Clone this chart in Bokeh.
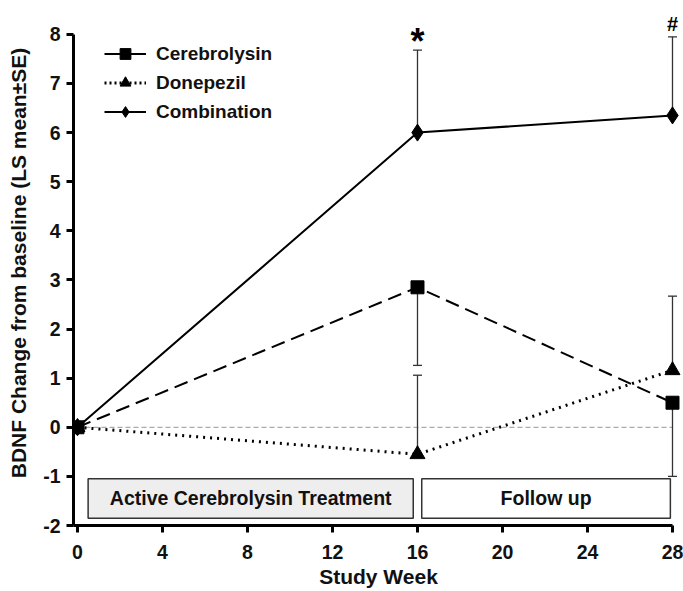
from bokeh.plotting import figure
from bokeh.models import (Range1d, FixedTicker, Legend, LegendItem, ColumnDataSource,
                          PrintfTickFormatter)
from bokeh.core.properties import value
from bokeh.embed import file_html
from bokeh.resources import INLINE

# ---- data ----
weeks = [0, 16, 28]
cerebrolysin = [0.0, 2.85, 0.50]
cerebrolysin_err_end = [None, 1.26, -1.00]   # one-sided (down)
donepezil = [0.0, -0.55, 1.16]
donepezil_err_end = [None, 1.06, 2.67]       # one-sided (up)
combination = [0.0, 6.00, 6.35]
combination_err_end = [None, 7.68, 7.95]     # one-sided (up)

x_ticks = [0, 4, 8, 12, 16, 20, 24, 28]
y_ticks = [-2, -1, 0, 1, 2, 3, 4, 5, 6, 7, 8]

phase_labels = ["Active Cerebrolysin Treatment", "Follow up"]
phase_left = [0.5, 16.2]
phase_right = [15.8, 27.9]
phase_bottom = [-1.85, -1.85]
phase_top = [-1.05, -1.05]
phase_fill = ["#eeeeee", "#ffffff"]

zero_x = [0, 28]
zero_y = [0, 0]

sig_marks = ["*", "#"]
sig_x = [16, 28]
sig_y = [7.86, 8.21]
sig_size = ["36px", "20px"]

FONT = "Liberation Sans"
NAN = [float("nan")]

X0, X1 = -0.188, 28.518

p = figure(width=683, height=591, output_backend="svg", toolbar_location=None,
           x_range=Range1d(X0, X1), y_range=Range1d(-2.0, 8.69),
           min_border_left=73, min_border_right=0, min_border_top=0, min_border_bottom=66)
p.grid.visible = False
p.outline_line_color = None
p.background_fill_color = "white"

# phase boxes
src_box = ColumnDataSource(dict(l=phase_left, r=phase_right, b=phase_bottom, t=phase_top,
                                fill=phase_fill, label=phase_labels,
                                cx=[(a + b) / 2 for a, b in zip(phase_left, phase_right)],
                                cy=[(a + b) / 2 for a, b in zip(phase_bottom, phase_top)]))
p.quad(left="l", right="r", bottom="b", top="t", fill_color="fill", line_color="#333333",
       line_width=1.5, source=src_box)
p.text(x="cx", y="cy", text="label", source=src_box, text_align="center", text_baseline="middle",
       text_font=value(FONT), text_font_style="bold", text_font_size="19.5px", text_color="#111111")

# zero line
p.line(zero_x, zero_y, line_color="#aaaaaa", line_dash="5 3", line_width=1.2)

# error bars
def err(xs, ys, ends):
    x0 = [x for x, e in zip(xs, ends) if e is not None]
    y0 = [y for y, e in zip(ys, ends) if e is not None]
    y1 = [e for e in ends if e is not None]
    p.segment(x0=x0, y0=y0, x1=x0, y1=y1, line_color="#333333", line_width=1.3)
    p.scatter(x0, y1, marker="dash", size=9, line_color="#333333", line_width=1.3)

err(weeks, combination, combination_err_end)
err(weeks, donepezil, donepezil_err_end)
err(weeks, cerebrolysin, cerebrolysin_err_end)

# series
p.line(weeks, combination, line_color="black", line_width=2)
p.scatter(weeks, combination, marker="diamond", size=17, fill_color="black", line_color="black")
p.line(weeks, donepezil, line_color="black", line_width=3, line_dash="2 5")
p.scatter(weeks, donepezil, marker="triangle", size=15, fill_color="black", line_color="black")
p.line(weeks, cerebrolysin, line_color="black", line_width=2, line_dash="14 7")
p.scatter(weeks, cerebrolysin, marker="square", size=13, fill_color="black", line_color="black")

# significance marks
src_sig = ColumnDataSource(dict(x=sig_x, y=sig_y, t=sig_marks, s=sig_size))
p.text(x="x", y="y", text="t", text_font_size="s", source=src_sig, text_align="center",
       text_baseline="middle", text_font=value(FONT), text_font_style="bold", text_color="black")

# legend (proxy renderers, not visible in the plot area)
lc = p.line(NAN, NAN, line_color="black", line_width=2)
mc = p.scatter(NAN, NAN, marker="square", size=11, fill_color="black", line_color="black")
ld = p.line(NAN, NAN, line_color="black", line_width=3, line_dash="2 3")
md = p.scatter(NAN, NAN, marker="triangle", size=12, fill_color="black", line_color="black")
lb = p.line(NAN, NAN, line_color="black", line_width=2)
mb = p.scatter(NAN, NAN, marker="diamond", size=13, fill_color="black", line_color="black")
legend = Legend(items=[LegendItem(label="Cerebrolysin", renderers=[lc, mc]),
                       LegendItem(label="Donepezil", renderers=[ld, md]),
                       LegendItem(label="Combination", renderers=[lb, mb])],
                location=(31, 400), glyph_width=42, glyph_height=27, label_height=27,
                spacing=2, padding=0, margin=0, label_standoff=10,
                border_line_color=None, background_fill_alpha=0,
                label_text_font=FONT, label_text_font_style="bold", label_text_font_size="19px",
                label_text_color="#111111")
p.add_layout(legend)

# axes
for ax in (p.xaxis[0], p.yaxis[0]):
    ax.axis_line_width = 3
    ax.axis_line_color = "black"
    ax.major_tick_line_width = 3
    ax.major_tick_line_color = "black"
    ax.major_tick_out = 7
    ax.major_tick_in = 0
    ax.minor_tick_line_color = None
    ax.major_label_text_font = FONT
    ax.major_label_text_font_style = "bold"
    ax.major_label_text_font_size = "19.5px"
    ax.major_label_text_color = "#111111"
    ax.axis_label_text_font = FONT
    ax.axis_label_text_font_style = "bold"
    ax.axis_label_text_font_size = "21px"
    ax.axis_label_text_color = "#111111"

p.xaxis.ticker = FixedTicker(ticks=x_ticks)
p.yaxis.ticker = FixedTicker(ticks=y_ticks)
p.yaxis.formatter = PrintfTickFormatter(format="%d")
p.xaxis.bounds = (X0, 28)
p.yaxis.bounds = (-2, 8)
p.xaxis.axis_label = "Study Week"
p.yaxis.axis_label = "BDNF Change from baseline (LS mean±SE)"
p.xaxis.major_label_standoff = 12
p.xaxis.axis_label_standoff = 3
p.yaxis.major_label_standoff = 6
p.yaxis.axis_label_standoff = 10

open("out.html", "w").write(file_html(p, INLINE))
